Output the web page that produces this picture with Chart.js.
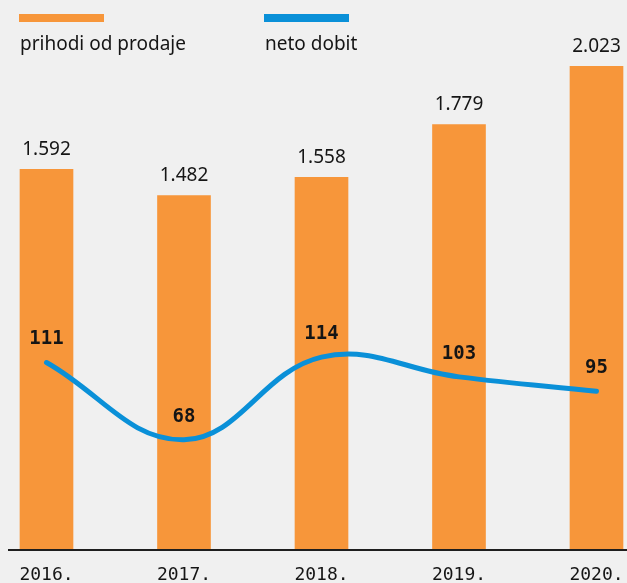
<!DOCTYPE html>
<html>
<head>
<meta charset="utf-8">
<script src="https://cdn.jsdelivr.net/npm/chart.js@4.4.1/dist/chart.umd.min.js"></script>
<style>
  html, body { margin: 0; padding: 0; background: #F0F0F0; }
  #wrap { position: relative; width: 627px; height: 583px; overflow: hidden; background: #F0F0F0; }
  #c { position: absolute; left: 0; top: 0; }
  .lg { position: absolute; font-family: "Noto Sans", sans-serif; font-size: 19px; color: #151515; white-space: nowrap; }
  .lg .sw { position: absolute; left: -1px; top: 0; width: 85px; height: 8px; }
  .lg .tx { position: absolute; left: 0; top: 17px; line-height: 24px; }
</style>
</head>
<body>
<div id="wrap">
  <canvas id="c" width="627" height="583"></canvas>
</div>
<script>
const categories = ["2016.", "2017.", "2018.", "2019.", "2020."];
const revenue = [1592, 1482, 1558, 1779, 2023];
const netProfit = [111, 68, 114, 103, 95];
const revenueLabels = ["1.592", "1.482", "1.558", "1.779", "2.023"];
const profitLabels = ["111", "68", "114", "103", "95"];
const seriesNames = ["prihodi od prodaje", "neto dobit"];
const seriesColors = ["#F7963A", "#0A90D8"];

const valueLabelPlugin = {
  id: 'valueLabels',
  afterDatasetsDraw(chart) {
    const ctx = chart.ctx;
    const barMeta = chart.getDatasetMeta(0);
    const lineMeta = chart.getDatasetMeta(1);
    ctx.save();
    ctx.textAlign = 'center';
    ctx.textBaseline = 'middle';
    ctx.fillStyle = '#151515';
    ctx.font = '19px "Noto Sans", sans-serif';
    barMeta.data.forEach((el, i) => {
      ctx.fillText(revenueLabels[i], el.x, el.y - 20);
    });
    ctx.font = 'bold 19px "DejaVu Sans Mono", monospace';
    lineMeta.data.forEach((pt, i) => {
      ctx.fillText(profitLabels[i], barMeta.data[i].x, pt.y - 23);
    });
    ctx.restore();
  }
};

const baselinePlugin = {
  id: 'baseline',
  afterDatasetsDraw(chart) {
    const ctx = chart.ctx;
    const y = Math.round(chart.scales.y.getPixelForValue(0)) + 1;
    ctx.save();
    ctx.strokeStyle = '#1E1E1E';
    ctx.lineWidth = 2;
    ctx.beginPath();
    ctx.moveTo(8, y);
    ctx.lineTo(chart.width, y);
    ctx.stroke();
    ctx.restore();
  }
};

const chart = new Chart(document.getElementById('c'), {
  data: {
    labels: categories,
    datasets: [
      {
        type: 'bar',
        label: seriesNames[0],
        data: revenue,
        backgroundColor: seriesColors[0],
        barThickness: 53,
        yAxisID: 'y',
        order: 2,
        clip: false
      },
      {
        type: 'line',
        label: seriesNames[1],
        data: netProfit,
        borderColor: seriesColors[1],
        borderWidth: 5,
        tension: 0.4,
        pointRadius: 0,
        borderCapStyle: 'round',
        fill: false,
        yAxisID: 'y2',
        order: 1,
        clip: false
      }
    ]
  },
  options: {
    responsive: false,
    devicePixelRatio: 1,
    animation: false,
    layout: { padding: { left: 46.5, right: 30.5, top: 48, bottom: -18 } },
    plugins: {
      legend: { display: false },
      tooltip: { enabled: false }
    },
    scales: {
      x: {
        type: 'category',
        offset: false,
        grid: { display: false, drawTicks: false },
        border: { display: false },
        ticks: {
          color: '#151515',
          font: { family: '"DejaVu Sans Mono", monospace', size: 18 },
          padding: 15,
          maxRotation: 0,
          autoSkip: false
        },
        afterFit(scale) { scale.paddingLeft = 0; scale.paddingRight = 0; }
      },
      y: { type: 'linear', min: 0, max: 2100, display: false },
      y2: { type: 'linear', min: 7, max: 286, display: false, position: 'right' }
    }
  },
  plugins: [valueLabelPlugin, baselinePlugin]
});

// HTML legend built from the dataset definitions
const wrap = document.getElementById('wrap');
const legendLeft = [20, 265];
chart.data.datasets.forEach((ds, i) => {
  const item = document.createElement('div');
  item.className = 'lg';
  item.style.left = legendLeft[i] + 'px';
  item.style.top = '14px';
  const sw = document.createElement('div');
  sw.className = 'sw';
  sw.style.background = i === 0 ? ds.backgroundColor : ds.borderColor;
  const tx = document.createElement('div');
  tx.className = 'tx';
  tx.textContent = ds.label;
  item.appendChild(sw);
  item.appendChild(tx);
  wrap.appendChild(item);
});
</script>
</body>
</html>
